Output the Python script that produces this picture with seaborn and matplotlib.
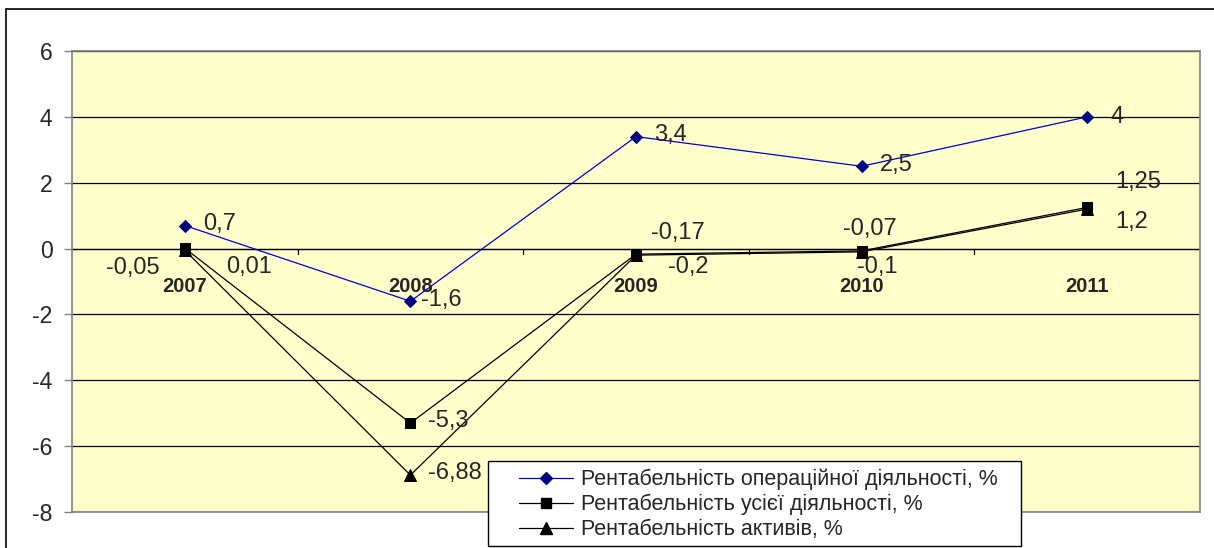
import pandas as pd
import seaborn as sns
import matplotlib.pyplot as plt
import matplotlib.patches as patches
from matplotlib.lines import Line2D

# data
years = ['2007', '2008', '2009', '2010', '2011']
oper = [0.7, -1.6, 3.4, 2.5, 4]
total = [0.01, -5.3, -0.17, -0.07, 1.25]
assets = [-0.05, -6.88, -0.2, -0.1, 1.2]
series_names = ['Рентабельність операційної діяльності, %',
                'Рентабельність усієї діяльності, %',
                'Рентабельність активів, %']
oper_labels = ['0,7', '-1,6', '3,4', '2,5', '4']
total_labels = ['0,01', '-5,3', '-0,17', '-0,07', '1,25']
assets_labels = ['-0,05', '-6,88', '-0,2', '-0,1', '1,2']

rows = []
for name, vals in zip(series_names, [oper, total, assets]):
    for i, (yr, v) in enumerate(zip(years, vals)):
        rows.append({'pos': i, 'Year': yr, 'Value': v, 'Series': name})
df = pd.DataFrame(rows)

sns.set_style('white')
plt.rcParams['font.family'] = ['Liberation Sans', 'DejaVu Sans']
plt.rcParams['axes.unicode_minus'] = False

W, H = 1214, 548
fig = plt.figure(figsize=(W / 100, H / 100), dpi=100)
ax = fig.add_axes([72 / W, (H - 512) / H, 1128 / W, 461 / H])
ax.set_facecolor('#FFFFCC')

# outer chart border
fig.patches.append(patches.Rectangle((6 / W, -0.1), 1.2, (H - 9) / H + 0.1,
                                     transform=fig.transFigure, fill=False,
                                     edgecolor='black', linewidth=1.2))

colors = {series_names[0]: '#0000CC', series_names[1]: 'black', series_names[2]: 'black'}
markers = {series_names[0]: 'D', series_names[1]: 's', series_names[2]: '^'}
sns.lineplot(data=df, x='pos', y='Value', hue='Series', style='Series',
             palette=colors, markers=markers, dashes=False, linewidth=0.9,
             markersize=7, legend=False, ax=ax, zorder=3)
# marker colours
for ln in ax.lines:
    ln.set_markeredgecolor(ln.get_color())
ax.lines[0].set_markerfacecolor('#000080')
ax.lines[0].set_markeredgecolor('#000080')
ax.lines[0].set_markersize(6.5)
ax.lines[2].set_markersize(8.5)

ax.set_xlim(-0.5, 4.5)
ax.set_ylim(-8, 6)
ax.set_yticks(range(-8, 7, 2))
ax.tick_params(axis='y', labelsize=16.5, length=6, width=1, color='#808080', pad=8, left=True)
ax.grid(axis='y', color='black', linewidth=0.9)
ax.set_axisbelow(True)
ax.set_xticks([])
ax.set_xlabel('')
ax.set_ylabel('')
for s in ax.spines.values():
    s.set_color('#808080')
    s.set_linewidth(1.2)

# category axis at zero
ax.axhline(0, color='black', linewidth=0.9, zorder=2)
for i in range(1, len(years)):
    ax.plot([i - 0.5, i - 0.5], [0, -0.17], color='black', linewidth=0.9, zorder=2)
for i, yr in enumerate(years):
    ax.annotate(yr, (i, 0), xytext=(0, -38), textcoords='offset pixels',
                ha='center', va='center', fontsize=14.5, fontweight='bold')

# data labels (pixel offsets)
def put(vals, labels, offs):
    for i, (v, lab) in enumerate(zip(vals, labels)):
        dx, dy, ha = offs[i]
        ax.annotate(lab, (i, v), xytext=(dx, dy), textcoords='offset pixels',
                    ha=ha, va='center', fontsize=17, zorder=5)

put(oper, oper_labels, [(18, 2, 'left'), (11, 1, 'left'), (18, 2, 'left'),
                        (18, 1, 'left'), (23, 0, 'left')])
put(total, total_labels, [(41, -19, 'left'), (18, 2, 'left'), (15, 21, 'left'),
                          (-19, 22, 'left'), (28, 25, 'left')])
put(assets, assets_labels, [(-25, -18, 'right'), (18, 2, 'left'), (32, -12, 'left'),
                            (-5, -15, 'left'), (28, -13, 'left')])

# legend box (Excel style, wide left padding)
fig.patches.append(patches.Rectangle((488 / W, (H - 546) / H), (1021 - 488) / W, 85 / H,
                                     transform=fig.transFigure, facecolor='white',
                                     edgecolor='black', linewidth=1.0, zorder=4))
handles = [Line2D([], [], color='#0000CC', marker='D', markerfacecolor='#000080',
                  markeredgecolor='#000080', markersize=6.5, linewidth=0.9),
           Line2D([], [], color='black', marker='s', markersize=7, linewidth=0.9),
           Line2D([], [], color='black', marker='^', markersize=8.5, linewidth=0.9)]
leg = fig.legend(handles, series_names, loc='upper left',
                 bbox_to_anchor=(519 / W, (H - 469) / H), frameon=False,
                 fontsize=15.5, handlelength=2.5, labelspacing=0.17,
                 borderpad=0, handletextpad=0.37, borderaxespad=0)
leg.set_zorder(5)

fig.savefig('out.png', dpi=100)
